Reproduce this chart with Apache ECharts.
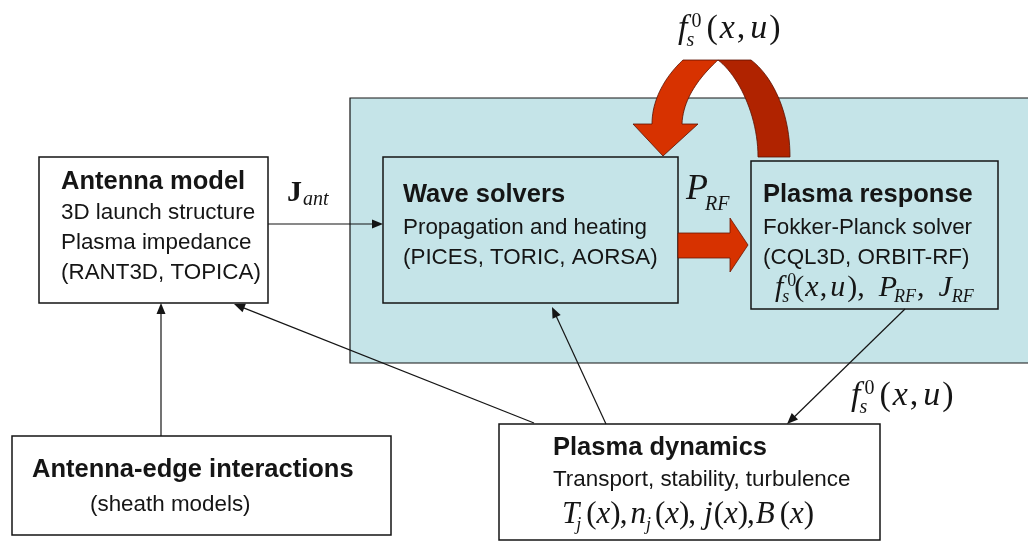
<!DOCTYPE html>
<html><head><meta charset="utf-8">
<script src="https://cdn.jsdelivr.net/npm/echarts@6/dist/echarts.min.js"></script>
<style>html,body{margin:0;padding:0;background:#fff}#c{width:1028px;height:542px}</style>
</head><body><div id="c"></div>
<script>
// ---------- content (text only) ----------
const boxTitles = ['Antenna model', 'Wave solvers', 'Plasma response', 'Antenna-edge interactions', 'Plasma dynamics'];
const boxLines = [
  ['3D launch structure', 'Plasma impedance', '(RANT3D, TOPICA)'],
  ['Propagation and heating', '(PICES, TORIC, AORSA)'],
  ['Fokker-Planck solver', '(CQL3D, ORBIT-RF)'],
  ['(sheath models)'],
  ['Transport, stability, turbulence']
];
const fLabelText = ['f', ['s', '0'], '(', 'x', ',', 'u', ')'];
const responseMathText = ['f', ['s', '0'], '(', 'x', ',', 'u', ')', ',', 'P', 'RF', ',', 'J', 'RF'];
const dynamicsMathText = ['T', 'j', '(', 'x', ')', ',', 'n', 'j', '(', 'x', ')', ',', 'j', '(', 'x', ')', ',', 'B', '(', 'x', ')'];
const jantText = ['J', 'ant'];
const prfText = ['P', 'RF'];

// ---------- layout / style ----------
const SANS = "'Liberation Sans', Arial, sans-serif";
const SERIF = "'Liberation Serif', 'Times New Roman', serif";
const INK = '#151515';
const CYAN = '#c5e4e8';
const RED = '#d73200';
const DARKRED = '#b02300';

const boxes = [
  {x: 39, y: 157, w: 229, h: 146, fill: '#fff', tx: 61, ty: [182, 213, 243, 273]},
  {x: 383, y: 157, w: 295, h: 146, fill: CYAN, tx: 403, ty: [195, 228, 258]},
  {x: 751, y: 161, w: 247, h: 148, fill: CYAN, tx: 763, ty: [195, 228, 258]},
  {x: 12, y: 436, w: 379, h: 99, fill: '#fff', tx: 32, ty: [470, 505], tx2: 90},
  {x: 499, y: 424, w: 381, h: 116, fill: '#fff', tx: 553, ty: [448, 480]}
];

const fLabelSpec = [['i', 0], ['ss', 0], ['r', 5], ['i', 2], ['r', 2], ['i', 5], ['r', 2]];
const responseSpec = [['i', 0], ['ss', 0], ['r', -2], ['i', 1], ['r', 1], ['i', 3], ['r', 2], ['r', 0], ['i', 14], ['sub', -3], ['r', 1], ['i', 14], ['sub', 0]];
const dynamicsSpec = [['i', 0], ['sub', -3], ['r', 5], ['i', 0], ['r', 0], ['r', -1], ['i', 3], ['sub', 0], ['r', 4], ['i', 0], ['r', 0], ['r', -1], ['i', 8], ['r', 1], ['i', 0], ['r', 0], ['r', -1], ['i', 1], ['r', 5], ['i', 0], ['r', 0]];
const jantSpec = [['b', 0], ['sub', 1]];
const prfSpec = [['i', 0], ['sub', -3]];

const mctx = document.createElement('canvas').getContext('2d');
function measure(t, size, style, weight, fam) {
  mctx.font = style + ' ' + weight + ' ' + size + 'px ' + fam;
  return mctx.measureText(t).width;
}
function txt(x, y, t, size, opt) {
  opt = opt || {};
  return {
    type: 'text', x: x, y: y, z: 20,
    style: {
      text: t, fontSize: size, fontFamily: opt.fam || SANS,
      fontStyle: opt.style || 'normal', fontWeight: opt.weight || 'normal',
      fill: INK, align: 'left', verticalAlign: 'middle'
    }
  };
}
function serifAt(x, base, t, size, style, weight) {
  return txt(x, base - 0.34 * size, t, size, {fam: SERIF, style: style, weight: weight});
}
function mathEls(x0, base, texts, spec, S, s, subDy, supDy) {
  const els = [];
  let x = x0;
  texts.forEach(function (t, i) {
    const k = spec[i][0];
    x += spec[i][1];
    if (k === 'ss') {
      const ws = measure(t[0], s, 'italic', 'normal', SERIF);
      const wp = measure(t[1], s, 'normal', 'normal', SERIF);
      els.push(serifAt(x - 1, base + subDy, t[0], s, 'italic', 'normal'));
      els.push(serifAt(x + 4, base + supDy, t[1], s, 'normal', 'normal'));
      x += Math.max(ws - 1, wp + 4);
    } else if (k === 'sub') {
      els.push(serifAt(x, base + subDy, t, s, 'italic', 'normal'));
      x += measure(t, s, 'italic', 'normal', SERIF);
    } else {
      const st = k === 'i' ? 'italic' : 'normal';
      const wt = k === 'b' ? 'bold' : 'normal';
      els.push(serifAt(x, base, t, S, st, wt));
      x += measure(t, S, st, wt, SERIF);
    }
  });
  return els;
}
function arrowEls(x1, y1, x2, y2) {
  const len = 11, hw = 4.5;
  const dx = x2 - x1, dy = y2 - y1, d = Math.hypot(dx, dy);
  const ux = dx / d, uy = dy / d, nx = -uy, ny = ux;
  const bx = x2 - ux * len, by = y2 - uy * len;
  return [
    {type: 'line', z: 10, shape: {x1: x1, y1: y1, x2: bx + ux * 2, y2: by + uy * 2}, style: {stroke: INK, lineWidth: 1.2}},
    {type: 'polygon', z: 10, shape: {points: [[x2, y2], [bx + nx * hw, by + ny * hw], [bx - nx * hw, by - ny * hw]]}, style: {fill: INK}}
  ];
}
function bez(p0, p1, p2, p3, n) {
  const pts = [];
  for (let i = 0; i <= n; i++) {
    const t = i / n, a = (1 - t) * (1 - t) * (1 - t), b = 3 * (1 - t) * (1 - t) * t, c = 3 * (1 - t) * t * t, e = t * t * t;
    pts.push([a * p0[0] + b * p1[0] + c * p2[0] + e * p3[0], a * p0[1] + b * p1[1] + c * p2[1] + e * p3[1]]);
  }
  return pts;
}

const els = [];
// cyan region
els.push({type: 'rect', z: 1, shape: {x: 350, y: 98, width: 700, height: 265}, style: {fill: CYAN, stroke: INK, lineWidth: 1.2}});
// boxes
boxes.forEach(function (b, i) {
  els.push({type: 'rect', z: 5, shape: {x: b.x, y: b.y, width: b.w, height: b.h}, style: {fill: b.fill, stroke: INK, lineWidth: 1.5}});
  els.push(txt(b.tx, b.ty[0], boxTitles[i], 25.5, {weight: 'bold'}));
  boxLines[i].forEach(function (l, j) {
    els.push(txt(b.tx2 || b.tx, b.ty[j + 1], l, 22.4));
  });
});
// connectors
[].push.apply(els, arrowEls(268, 224, 383, 224));
[].push.apply(els, arrowEls(161, 436, 161, 303));
[].push.apply(els, arrowEls(534, 423, 234, 304));
[].push.apply(els, arrowEls(606, 424, 552, 307));
[].push.apply(els, arrowEls(905, 309, 787, 424));
// red straight arrow
els.push({type: 'polygon', z: 12, shape: {points: [[678, 233], [730, 233], [730, 218], [748, 245], [730, 272], [730, 258], [678, 258]]}, style: {fill: RED, stroke: '#6a1500', lineWidth: 0.8}});
// red curved arrow (right, darker band)
const rightBand = [[718, 60], [751, 60]].concat(bez([751, 60], [771, 75], [790, 110], [790, 157], 24)).concat([[758, 157]]).concat(bez([758, 157], [758, 115], [738, 75], [718, 60], 24));
els.push({type: 'polygon', z: 12, shape: {points: rightBand}, style: {fill: DARKRED, stroke: '#5a1000', lineWidth: 0.8}});
const leftBand = [[683, 60], [718, 60]].concat(bez([718, 60], [705, 72], [683, 95], [682, 124], 24)).concat([[698, 124], [663, 156], [633, 124], [652, 124]]).concat(bez([652, 124], [652, 95], [670, 72], [683, 60], 24));
els.push({type: 'polygon', z: 13, shape: {points: leftBand}, style: {fill: RED, stroke: '#5a1000', lineWidth: 0.8}});
// math labels
[].push.apply(els, mathEls(678, 41, fLabelText, fLabelSpec, 34, 20, 7, -12));
[].push.apply(els, mathEls(851, 408, fLabelText, fLabelSpec, 34, 20, 7, -12));
[].push.apply(els, mathEls(775, 298, responseMathText, responseSpec, 30, 18, 5, -11));
[].push.apply(els, mathEls(562, 525, dynamicsMathText, dynamicsSpec, 31, 18, 6, -10));
[].push.apply(els, mathEls(287, 203, jantText, jantSpec, 30, 20, 4, 0));
[].push.apply(els, mathEls(686, 202, prfText, prfSpec, 36, 20, 10, 0));

const chart = echarts.init(document.getElementById('c'), null, {renderer: 'canvas'});
chart.setOption({animation: false, backgroundColor: '#fff', graphic: {elements: els}});
</script>
</body></html>
